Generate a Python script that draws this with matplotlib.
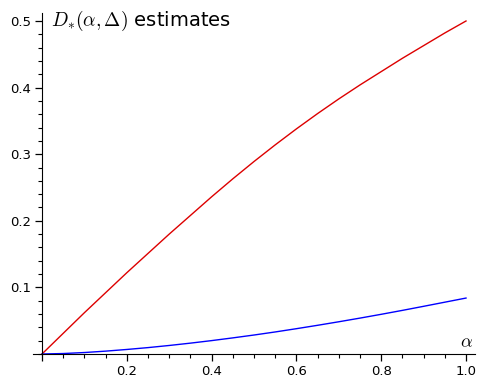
import numpy as np
import matplotlib
matplotlib.use("Agg")
import matplotlib.pyplot as plt
from matplotlib.ticker import MultipleLocator, FixedLocator

plt.rcParams['mathtext.fontset'] = 'cm'

# values
alpha = [0.0, 0.05, 0.1, 0.15, 0.2, 0.25, 0.3, 0.35, 0.4, 0.45, 0.5,
         0.55, 0.6, 0.65, 0.7, 0.75, 0.8, 0.85, 0.9, 0.95, 1.0]
upper = [0.0, 0.031, 0.062, 0.092, 0.122, 0.151, 0.180, 0.208, 0.236, 0.263, 0.289,
         0.314, 0.338, 0.361, 0.383, 0.404, 0.424, 0.444, 0.463, 0.482, 0.500]
lower = [0.0, 0.0007, 0.0022, 0.0043, 0.0068, 0.0096, 0.0128, 0.0163, 0.0201, 0.0242, 0.0285,
         0.0331, 0.0380, 0.0431, 0.0484, 0.0539, 0.0596, 0.0655, 0.0716, 0.0778, 0.0840]
xticks = [0.2, 0.4, 0.6, 0.8, 1.0]
yticks = [0.1, 0.2, 0.3, 0.4, 0.5]

fig = plt.figure(figsize=(4.87, 3.88), dpi=100)
W, H = 487, 388
ax = fig.add_axes([33 / W, (H - 354) / H, 442 / W, 341 / H])

ax.plot(alpha, upper, color='#dd0000', lw=1.0)
ax.plot(alpha, lower, color='#0000ff', lw=1.0)

ax.set_xlim(-0.0212, 1.0212)
ax.set_ylim(0, 0.512)

for s in ['top', 'right']:
    ax.spines[s].set_visible(False)
ax.spines['left'].set_position(('data', 0))
ax.spines['bottom'].set_position(('data', 0))

ax.xaxis.set_major_locator(FixedLocator([0.0] + xticks))
ax.set_xticklabels([''] + ['%.1f' % v for v in xticks])
ax.xaxis.set_minor_locator(MultipleLocator(0.05))
ax.yaxis.set_major_locator(FixedLocator(yticks))
ax.set_yticklabels(['%.1f' % v for v in yticks])
ax.yaxis.set_minor_locator(MultipleLocator(0.02))

ax.tick_params(which='major', length=5, width=0.9, labelsize=9.5, pad=3)
ax.tick_params(which='minor', length=3, width=0.8)

ax.text(0.022, 0.5, r'$D_{*}(\alpha,\Delta)$ estimates', fontsize=14,
        ha='left', va='center')
ax.text(1.0, 0.004, r'$\alpha$', fontsize=13, ha='center', va='bottom')

fig.savefig('out.png', dpi=100)
